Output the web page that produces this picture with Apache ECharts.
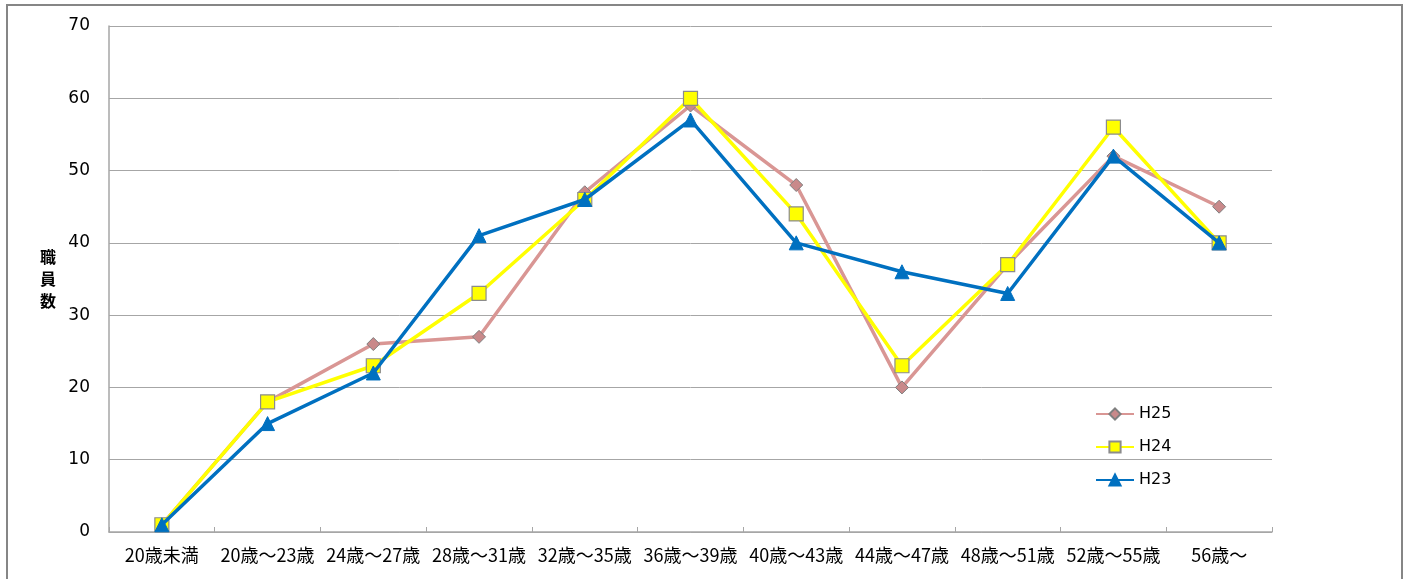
<!DOCTYPE html>
<html><head><meta charset="utf-8">
<script src="https://cdn.jsdelivr.net/npm/echarts@6/dist/echarts.min.js"></script>
<style>html,body{margin:0;padding:0;background:#fff}#c{width:1408px;height:579px}</style>
</head><body><div id="c"></div>
<script>
var categories = ['20歳未満','20歳～23歳','24歳～27歳','28歳～31歳','32歳～35歳','36歳～39歳','40歳～43歳','44歳～47歳','48歳～51歳','52歳～55歳','56歳～'];
var h25 = [1, 18, 26, 27, 47, 59, 48, 20, 37, 52, 45];
var h24 = [1, 18, 23, 33, 46, 60, 44, 23, 37, 56, 40];
var h23 = [1, 15, 22, 41, 46, 57, 40, 36, 33, 52, 40];
var yTicks = [0, 10, 20, 30, 40, 50, 60, 70];

var chart = echarts.init(document.getElementById('c'), null, {renderer: 'canvas'});
var jp = '"Noto Sans CJK JP", sans-serif';
chart.setOption({
  animation: false,
  graphic: [{type: 'rect', shape: {x: 7, y: 5, width: 1395, height: 600}, style: {fill: 'none', stroke: '#868686', lineWidth: 2}, z: 0}],
  grid: {left: 109, right: 136, top: 26, bottom: 47},
  legend: {
    orient: 'vertical', left: 1090, top: 401, itemGap: 17, itemWidth: 38, itemHeight: 14,
    textStyle: {fontFamily: 'DejaVu Sans, sans-serif', fontSize: 16, color: '#000'},
    data: ['H25', 'H24', 'H23']
  },
  xAxis: {
    type: 'category', data: categories, boundaryGap: true,
    axisLine: {lineStyle: {color: '#a6a6a6', width: 1.5}},
    axisTick: {show: true, inside: true, length: 5, lineStyle: {color: '#a6a6a6'}},
    axisLabel: {interval: 0, margin: 14, fontFamily: jp, fontSize: 18, color: '#000'}
  },
  yAxis: {
    type: 'value', min: yTicks[0], max: yTicks[yTicks.length - 1], interval: 10,
    name: '職\n員\n数', nameLocation: 'middle', nameRotate: 0, nameGap: 53,
    nameTextStyle: {fontFamily: jp, fontSize: 16, fontWeight: 'bold', color: '#000', lineHeight: 22},
    axisLine: {show: true, lineStyle: {color: '#a6a6a6', width: 1.5}},
    axisTick: {show: false},
    splitLine: {lineStyle: {color: '#a6a6a6', width: 1}},
    axisLabel: {margin: 19, fontFamily: 'DejaVu Sans, sans-serif', fontSize: 17, color: '#000'}
  },
  series: [
    {name: 'H25', type: 'line', data: h25, symbol: 'diamond', symbolSize: 13,
     lineStyle: {color: '#d99694', width: 3.5}, itemStyle: {color: '#c9898a', borderColor: '#7f7f7f', borderWidth: 1}, z: 2},
    {name: 'H24', type: 'line', data: h24, symbol: 'rect', symbolSize: 14,
     lineStyle: {color: '#ffff00', width: 3.5}, itemStyle: {color: '#ffff00', borderColor: '#8c8c8c', borderWidth: 1.2}, z: 3},
    {name: 'H23', type: 'line', data: h23, symbol: 'triangle', symbolSize: 14,
     lineStyle: {color: '#0070c0', width: 3.5}, itemStyle: {color: '#0070c0', borderColor: '#0070c0', borderWidth: 1}, z: 4}
  ]
});
</script></body></html>
